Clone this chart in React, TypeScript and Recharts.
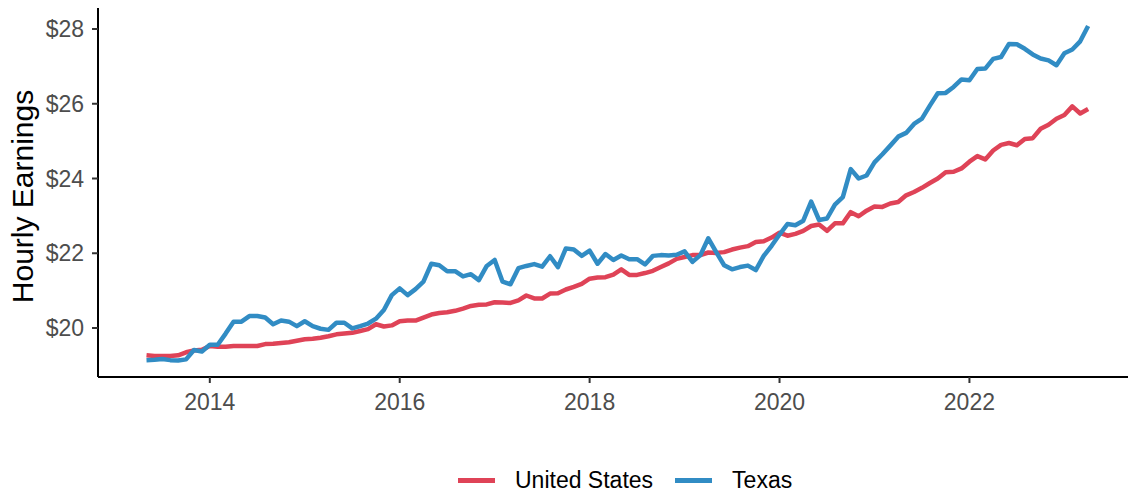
import React from 'react';
import { LineChart, Line, XAxis, YAxis } from 'recharts';

// monthly series, May 2013 .. Apr 2023
const startYear = 2013;
const startMonth = 5;

const usValues = [
  19.27, 19.25, 19.25, 19.25, 19.27, 19.35, 19.4, 19.42, 19.52, 19.5, 19.5, 19.52,
  19.52, 19.52, 19.52, 19.57, 19.58, 19.6, 19.62, 19.66, 19.7, 19.71, 19.74, 19.78,
  19.83, 19.85, 19.87, 19.92, 19.97, 20.1, 20.04, 20.07, 20.18, 20.2, 20.2, 20.28,
  20.36, 20.4, 20.42, 20.46, 20.52, 20.59, 20.62, 20.63, 20.69, 20.68, 20.67, 20.74,
  20.87, 20.79, 20.79, 20.92, 20.93, 21.03, 21.1, 21.18, 21.32, 21.35, 21.36, 21.43,
  21.57, 21.42, 21.42, 21.47, 21.53, 21.63, 21.73, 21.85, 21.9, 21.95, 21.95, 22.02,
  22.01, 22.03, 22.1, 22.15, 22.19, 22.3, 22.32, 22.42, 22.55, 22.47, 22.52, 22.6,
  22.73, 22.77, 22.6, 22.8, 22.8, 23.1, 22.99, 23.14, 23.25, 23.24, 23.33, 23.37,
  23.55, 23.64, 23.75, 23.88, 24.0, 24.17, 24.18, 24.27, 24.45, 24.6, 24.51, 24.75,
  24.9, 24.95, 24.89, 25.06, 25.08, 25.33, 25.44, 25.6, 25.7, 25.93, 25.74, 25.86,
];

const txValues = [
  19.14, 19.15, 19.17, 19.14, 19.13, 19.16, 19.41, 19.37, 19.55, 19.55, 19.85, 20.17,
  20.17, 20.32, 20.32, 20.28, 20.1, 20.2, 20.17, 20.05, 20.18, 20.05, 19.98, 19.95,
  20.14, 20.14, 19.99, 20.05, 20.12, 20.25, 20.48, 20.88, 21.06, 20.88, 21.04, 21.24,
  21.72, 21.68, 21.52, 21.52, 21.38, 21.44, 21.28, 21.66, 21.82, 21.24, 21.17, 21.6,
  21.66, 21.71, 21.64, 21.92, 21.63, 22.13, 22.1, 21.93, 22.07, 21.72, 21.98, 21.82,
  21.94, 21.84, 21.84, 21.7, 21.93, 21.95, 21.94, 21.96, 22.05, 21.77, 21.95, 22.4,
  22.03, 21.68, 21.57, 21.63, 21.67, 21.55, 21.93, 22.2, 22.5, 22.78, 22.75, 22.87,
  23.38, 22.89, 22.93, 23.3, 23.5, 24.25, 24.0, 24.08, 24.43, 24.65, 24.88, 25.12,
  25.22, 25.46, 25.6, 25.95, 26.28, 26.29, 26.45, 26.65, 26.63, 26.93, 26.94, 27.2,
  27.25, 27.6, 27.59, 27.47, 27.32, 27.21, 27.16, 27.03, 27.35, 27.45, 27.67, 28.08,
];

const xTicks = [2014, 2016, 2018, 2020, 2022];
const yTicks = [20, 22, 24, 26, 28];

const RED = '#DF4357';
const BLUE = '#318CC4';
const FONT = '"Liberation Sans", Arial, sans-serif';

const data = usValues.map((us, i) => {
  const m = startMonth - 1 + i;
  return {
    t: startYear + Math.floor(m / 12) + (m % 12) / 12,
    us,
    tx: txValues[i],
  };
});

// rotated y title, placed inside the y-axis box
const renderYTitle = (props: any) => {
  const vb = props.viewBox || {};
  const x = (vb.x ?? 0) + 33;
  const y = (vb.y ?? 0) + (vb.height ?? 0) / 2 + 4;
  return (
    <text
      x={x}
      y={y}
      transform={`rotate(-90 ${x} ${y})`}
      textAnchor="middle"
      fill="#000"
      fontSize={30}
      fontFamily={FONT}
    >
      Hourly Earnings
    </text>
  );
};

export default function App() {
  const axisLine = { stroke: '#000000', strokeWidth: 2 };
  const tickLine = { stroke: '#333333', strokeWidth: 2 };

  return (
    <div style={{ position: 'absolute', left: 0, top: 0, width: 1130, height: 496, background: '#fff', fontFamily: FONT }}>
      <LineChart width={1130} height={496} data={data} margin={{ top: 8, right: 2, bottom: 79, left: 0 }}>
        <XAxis
          dataKey="t"
          type="number"
          domain={[2012.8225, 2023.67]}
          ticks={xTicks}
          allowDataOverflow
          height={40}
          axisLine={axisLine}
          tickLine={tickLine}
          tickSize={6}
          tickMargin={11}
          tick={{ fill: '#4D4D4D', fontSize: 23, fontFamily: FONT }}
        />
        <YAxis
          type="number"
          domain={[18.689, 28.562]}
          ticks={yTicks}
          allowDataOverflow
          width={98}
          axisLine={axisLine}
          tickLine={tickLine}
          tickSize={6}
          tickMargin={8}
          tickFormatter={(v: number) => `$${v}`}
          tick={{ fill: '#4D4D4D', fontSize: 23, fontFamily: FONT }}
          label={{ content: renderYTitle }}
        />
        <Line
          dataKey="us"
          type="linear"
          stroke={RED}
          strokeWidth={4.5}
          strokeLinejoin="round"
          dot={false}
          isAnimationActive={false}
        />
        <Line
          dataKey="tx"
          type="linear"
          stroke={BLUE}
          strokeWidth={4.5}
          strokeLinejoin="round"
          dot={false}
          isAnimationActive={false}
        />
      </LineChart>

      {/* legend, drawn like ggplot's bottom legend */}
      <div
        style={{
          position: 'absolute',
          left: 458,
          top: 467,
          display: 'flex',
          alignItems: 'center',
          fontSize: 23,
          color: '#000',
          lineHeight: '27px',
        }}
      >
        <span style={{ width: 37, height: 5, background: RED, marginRight: 20 }} />
        <span style={{ marginRight: 22 }}>United States</span>
        <span style={{ width: 37, height: 5, background: BLUE, marginRight: 20 }} />
        <span>Texas</span>
      </div>
    </div>
  );
}
